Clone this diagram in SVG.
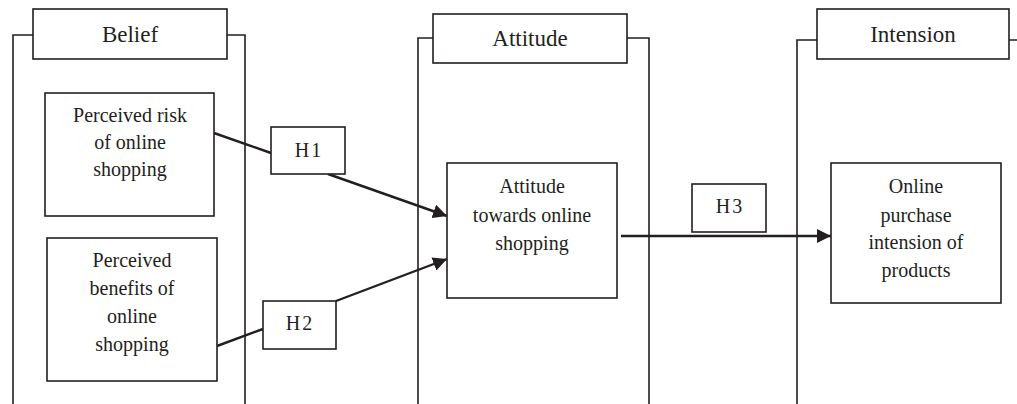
<svg xmlns="http://www.w3.org/2000/svg" width="1017" height="404" viewBox="0 0 1017 404">
<defs>
<style>
.box{fill:#fff;stroke:#231f20;stroke-width:1.6}
.frame{fill:none;stroke:#231f20;stroke-width:1.6}
.conn{fill:none;stroke:#231f20;stroke-width:2.4}
.t{font-family:"Liberation Serif","Times New Roman",serif;font-size:20px;fill:#231f20;text-anchor:middle}
.title{font-family:"Liberation Serif","Times New Roman",serif;font-size:23px;fill:#231f20;text-anchor:middle}
.h{font-family:"Liberation Serif","Times New Roman",serif;font-size:20px;fill:#231f20;text-anchor:middle;letter-spacing:2px}
</style>
<marker id="arr" viewBox="0 0 14 14" refX="14" refY="7" markerWidth="14" markerHeight="14" markerUnits="userSpaceOnUse" orient="auto">
<path d="M0,0 L14,7 L0,14 Z" fill="#231f20"/>
</marker>
</defs>
<rect width="1017" height="404" fill="#fff"/>

<g id="belief-group">
<path class="frame" d="M13,404 V35 H33 M227,35 H245 V404"/>
<rect class="box" x="33" y="9" width="194" height="50"/>
<text class="title" x="130" y="42">Belief</text>
</g>

<g id="attitude-group">
<path class="frame" d="M418,404 V38 H433 M627,38 H649 V404"/>
<rect class="box" x="433" y="14" width="194" height="49"/>
<text class="title" x="530" y="46">Attitude</text>
</g>

<g id="intension-group">
<path class="frame" d="M797,404 V40 H817 M1009,40 H1017"/>
<rect class="box" x="817" y="9" width="192" height="50"/>
<text class="title" x="913" y="42">Intension</text>
</g>

<g id="connectors">
<line class="conn" x1="214" y1="133" x2="271" y2="153"/>
<line class="conn" x1="328" y1="174" x2="447" y2="216" marker-end="url(#arr)"/>
<line class="conn" x1="217" y1="346" x2="263" y2="329"/>
<line class="conn" x1="336" y1="301" x2="447" y2="259" marker-end="url(#arr)"/>
<line class="conn" x1="621" y1="236" x2="831" y2="236" marker-end="url(#arr)"/>
</g>

<g id="risk">
<rect class="box" x="45" y="93" width="169" height="123"/>
<text class="t" x="130" y="122">Perceived risk</text>
<text class="t" x="130" y="149">of online</text>
<text class="t" x="130" y="176">shopping</text>
</g>

<g id="benefits">
<rect class="box" x="47" y="238" width="170" height="143"/>
<text class="t" x="132" y="267">Perceived</text>
<text class="t" x="132" y="295">benefits of</text>
<text class="t" x="132" y="323">online</text>
<text class="t" x="132" y="351">shopping</text>
</g>

<g id="h1">
<rect class="box" x="271" y="127" width="74" height="47"/>
<text class="h" x="309" y="157">H1</text>
</g>

<g id="h2">
<rect class="box" x="263" y="301" width="73" height="48"/>
<text class="h" x="300" y="330">H2</text>
</g>

<g id="h3">
<rect class="box" x="692" y="184" width="74" height="48"/>
<text class="h" x="730" y="213">H3</text>
</g>

<g id="attitude-box">
<rect class="box" x="447" y="163" width="170" height="135"/>
<text class="t" x="532" y="193">Attitude</text>
<text class="t" x="532" y="222">towards online</text>
<text class="t" x="532" y="250">shopping</text>
</g>

<g id="intension-box">
<rect class="box" x="831" y="163" width="170" height="140"/>
<text class="t" x="916" y="193">Online</text>
<text class="t" x="916" y="222">purchase</text>
<text class="t" x="916" y="249">intension of</text>
<text class="t" x="916" y="277">products</text>
</g>
</svg>
